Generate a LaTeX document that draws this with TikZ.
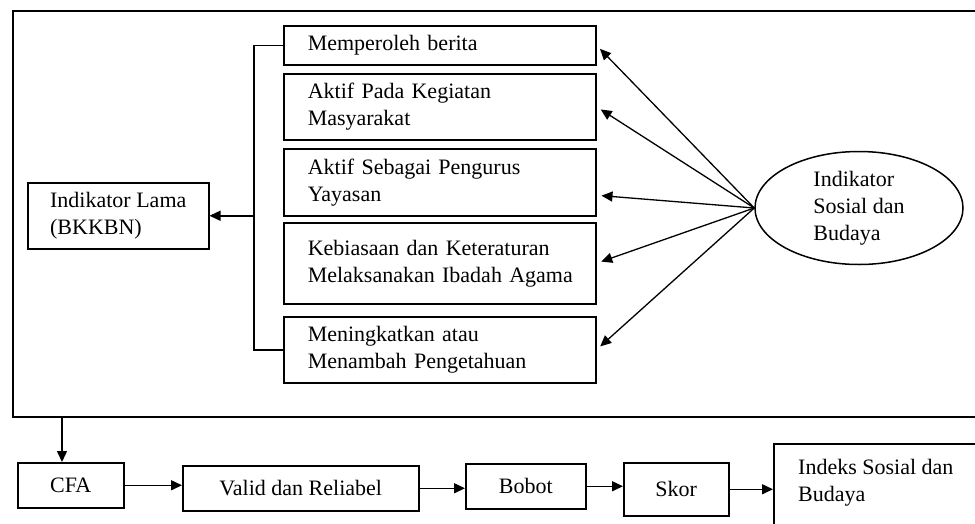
\documentclass[tikz,border=0pt]{standalone}
\usepackage{fontspec}
\setmainfont{Liberation Serif}
\usetikzlibrary{arrows.meta,shapes.geometric}
\begin{document}
\begin{tikzpicture}[x=1pt,y=-1pt,
  every node/.style={font=\fontsize{22}{27}\selectfont},
  line/.style={line width=1.5pt},
  arr/.style={line width=1.5pt,-{Triangle[length=11pt,width=10pt]}},
  rbox/.style={draw,line width=1.5pt,anchor=north west,text width=264pt,inner xsep=24pt,inner ysep=0pt,align=left},
  sbox/.style={draw,line width=1.5pt,anchor=north west,align=center,inner sep=0pt},
]
\useasboundingbox (0,0) rectangle (975,523);
\clip (0,0) rectangle (975,523);

% outer frame around the indicator block
\draw[line] (990,11) -- (13,11) -- (13,417) -- (990,417);

% indicator boxes
\node[rbox,minimum height=39pt] (b1) at (283,25) {Memperoleh berita};
\node[rbox,minimum height=66pt] (b2) at (283,73) {Aktif Pada Kegiatan\\Masyarakat};
\node[rbox,minimum height=67pt] (b3) at (283,148) {Aktif Sebagai Pengurus\\Yayasan};
\node[rbox,minimum height=81pt] (b4) at (283,222) {Kebiasaan dan Keteraturan\\\mbox{Melaksanakan Ibadah Agama}};
\node[rbox,minimum height=66pt] (b5) at (283,316) {Meningkatkan atau\\Menambah Pengetahuan};

% old indicator box
\node[sbox,minimum width=181pt,minimum height=66pt,align=left] (lama) at (27,182) {Indikator Lama\\(BKKBN)};

% latent construct
\node[draw,ellipse,line width=1.5pt,minimum width=208pt,minimum height=113pt,inner sep=0pt,align=left] (soc) at (859,208) {Indikator\\Sosial dan\\Budaya};

% bracket joining the indicators
\coordinate (br) at (254,0);
\draw[line] (b1.west) -- (b1.west -| br) -- (b5.west -| br) -- (b5.west);
\coordinate (brl) at (lama.east -| br);
\draw[arr] (brl) -- (lama.east);

% loadings
\foreach \b in {b1,b2,b4,b5}
  \draw[arr,line width=1.3pt,shorten >=5pt] (soc.west) -- (\b.east);
\draw[arr,line width=1.3pt,shorten >=5pt] (soc.west) -- ([yshift=-13pt]b3.east);

% analysis chain
\node[sbox,minimum width=106pt,minimum height=45pt] (cfa) at (17,462) {CFA};
\node[sbox,minimum width=236pt,minimum height=45pt] (valid) at (182,465) {Valid dan Reliabel};
\node[sbox,minimum width=120pt,minimum height=45pt] (bobot) at (465,463) {Bobot};
\node[sbox,minimum width=105pt,minimum height=53pt] (skor) at (623,462) {Skor};
\node[draw,line width=1.5pt,anchor=north west,minimum width=215pt,minimum height=110pt] (idx) at (773,443) {};
\node[anchor=north west,align=left,inner sep=3pt] (idxt) at (795,456) {Indeks Sosial dan\\Budaya};

\coordinate (fb) at (62,417);
\draw[arr] (fb) -- (fb |- cfa.north);
\draw[arr] (cfa.east) -- (cfa.east -| valid.west);
\draw[arr] (valid.east) -- (valid.east -| bobot.west);
\draw[arr] (bobot.east) -- (bobot.east -| skor.west);
\draw[arr] (skor.east) -- (skor.east -| idx.west);
\end{tikzpicture}
\end{document}
